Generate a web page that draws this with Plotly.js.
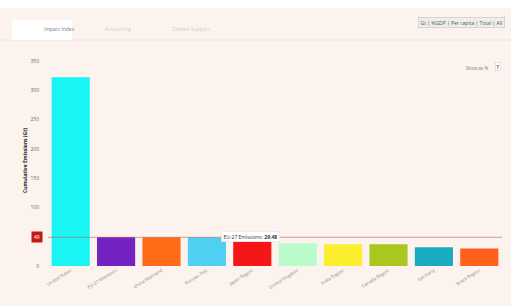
<!DOCTYPE html>
<html>
<head>
<meta charset="utf-8">
<script src="https://cdn.plot.ly/plotly-3.0.1.min.js"></script>
<style>
html,body{margin:0;padding:0;background:#fdf3ee;}
#chart{width:511px;height:306px;}
</style>
</head>
<body>
<div id="chart"></div>
<script>
var categories = ["United States","EU-27 Members","China Mainland","Russian Fed.","Japan Region","United Kingdom","India Region","Canada Region","Germany","Brazil Region"];
var values = [322, 49.5, 49, 49, 42, 39, 37, 37, 32, 30];
var colors = ["#19f5f5","#7423c2","#ff6b17","#4fd0f2","#f41717","#b9fbcb","#fbee2e","#a9c71f","#18abc2","#ff601c"];
var yTicks = [0,50,100,150,200,250,300,350];
var thresholdValue = 49;
var thresholdLabel = "49";
var tooltipText = "EU-27 Emissions: <b>29.48</b>";
var tabs = ["Impact Index","Accounting","Climate Support"];

var trace = {
  type: "bar",
  x: categories,
  y: values,
  marker: {color: colors},
  hoverinfo: "none"
};

var layout = {
  width: 511, height: 306,
  paper_bgcolor: "#fdf3ee",
  plot_bgcolor: "#fdf3ee",
  margin: {l: 48, r: 9, t: 55, b: 40},
  bargap: 0.16,
  showlegend: false,
  font: {family: "Open Sans", size: 5, color: "#777"},
  xaxis: {
    tickangle: -32,
    tickfont: {size: 4.5, color: "#888"},
    showgrid: false, zeroline: false, showline: false, ticks: ""
  },
  yaxis: {
    range: [0, 360],
    tickvals: yTicks,
    tickfont: {size: 5, color: "#666"},
    showgrid: false, zeroline: false, showline: false,
    ticks: "", ticklabelstandoff: 8,
    title: {text: "<b>Cumulative Emissions (Gt)</b>", font: {size: 5, color: "#222"}, standoff: 2}
  },
  shapes: [
    {type: "rect", xref: "paper", yref: "paper", x0: -0.11, x1: 1.03, y0: 1.223, y1: 1.27,
     fillcolor: "#ffffff", line: {width: 0}, layer: "below"},
    {type: "line", xref: "paper", x0: 0, x1: 1, yref: "y", y0: thresholdValue, y1: thresholdValue,
     line: {color: "rgba(180,120,120,0.7)", width: 1}},
    {type: "line", xref: "paper", yref: "paper", x0: -0.11, x1: 1.03, y0: 1.071, y1: 1.071,
     line: {color: "#f1e2da", width: 1}},
    {type: "rect", xref: "paper", yref: "paper", x0: -0.079, x1: 0.053, y0: 1.071, y1: 1.166,
     fillcolor: "#ffffff", line: {width: 0}}
  ],
  annotations: [
    {xref: "paper", yref: "paper", x: -0.013, y: 1.123, yanchor: "middle", text: tabs[0], showarrow: false,
     font: {size: 5, color: "#777"}},
    {xref: "paper", yref: "paper", x: 0.121, y: 1.123, yanchor: "middle", text: tabs[1], showarrow: false,
     font: {size: 5, color: "#ccc"}},
    {xref: "paper", yref: "paper", x: 0.269, y: 1.123, yanchor: "middle", text: tabs[2], showarrow: false,
     font: {size: 5, color: "#ccc"}},
    {xref: "paper", yref: "paper", x: 1.007, y: 1.156, xanchor: "right", yanchor: "middle", text: "Gt | %GDP | Per capita | Total | All",
     showarrow: false, font: {size: 5, color: "#555"}, bgcolor: "#eeeeee", bordercolor: "#bbb", borderwidth: 0.5, borderpad: 2},
    {xref: "paper", yref: "paper", x: 0.9736, y: 0.962, xanchor: "right", text: "Show as %",
     showarrow: false, font: {size: 4.5, color: "#777"}},
    {xref: "paper", yref: "paper", x: 0.991, y: 0.965, xanchor: "center", text: "<b>?</b>",
     showarrow: false, font: {size: 5, color: "#555"}, bgcolor: "#ffffff", bordercolor: "#ccc", borderwidth: 0.5, borderpad: 1},
    {xref: "paper", yref: "y", x: -0.025, y: thresholdValue, xanchor: "center", text: thresholdLabel,
     showarrow: false, font: {size: 5, color: "#ffffff"}, bgcolor: "#c41818", borderpad: 2},
    {xref: "x", yref: "y", x: 3.95, y: thresholdValue + 2, text: tooltipText,
     showarrow: false, font: {size: 5, color: "#333"}, bgcolor: "#ffffff", bordercolor: "#dddddd", borderwidth: 0.5, borderpad: 2}
  ]
};

Plotly.newPlot("chart", [trace], layout, {displayModeBar: false, staticPlot: true});
</script>
</body>
</html>
